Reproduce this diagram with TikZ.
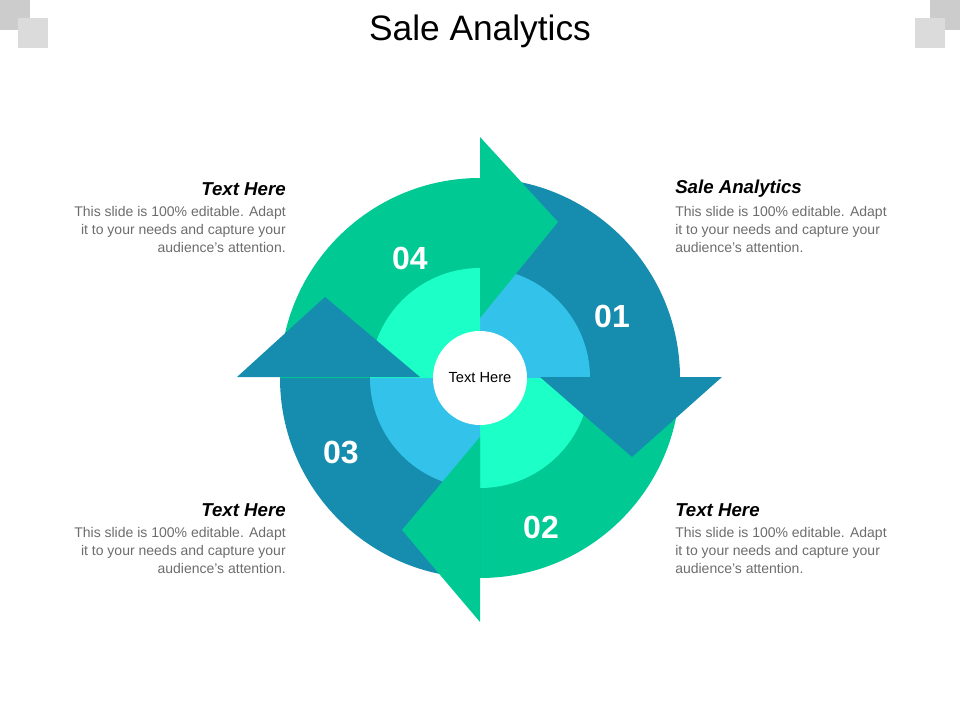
\documentclass[tikz,border=0pt]{standalone}
\usepackage{fontspec}
\setmainfont{Liberation Sans}
\begin{document}
\begin{tikzpicture}[x=0.75pt,y=-0.75pt,
  head/.style={font=\fontsize{14}{16}\selectfont\bfseries\itshape},
  body/.style={font=\fontsize{10.5}{13.5}\selectfont,text=gray!85!black,inner sep=0pt},
  num/.style={font=\fontsize{24}{26}\selectfont\bfseries,text=white}]
\definecolor{dblue}{HTML}{168DAE}
\definecolor{dgreen}{HTML}{00C994}
\definecolor{lblue}{HTML}{33C2EA}
\definecolor{lgreen}{HTML}{1CFFC6}
\useasboundingbox (0,0) rectangle (960,720);
\fill[gray!40] (0,0) rectangle (30,30);
\fill[gray!28] (18,18) rectangle (48,48);
\fill[gray!40] (930,0) rectangle (960,30);
\fill[gray!28] (915,18) rectangle (945,48);
\node[font=\fontsize{26.5}{30}\selectfont] (title) at (480,31) {Sale Analytics};
\coordinate (c) at (480,378);
% sectors
\fill[dblue] (c) -- ++(-90:200) arc[start angle=-90,end angle=0,radius=200] -- cycle;
\fill[dgreen] (c) -- ++(0:200) arc[start angle=0,end angle=90,radius=200] -- cycle;
\fill[dblue] (c) -- ++(90:200) arc[start angle=90,end angle=180,radius=200] -- cycle;
\fill[dgreen] (c) -- ++(180:200) arc[start angle=180,end angle=270,radius=200] -- cycle;
\fill[lblue] (c) -- ++(-90:110) arc[start angle=-90,end angle=0,radius=110] -- cycle;
\fill[lgreen] (c) -- ++(0:110) arc[start angle=0,end angle=90,radius=110] -- cycle;
\fill[lblue] (c) -- ++(90:110) arc[start angle=90,end angle=180,radius=110] -- cycle;
\fill[lgreen] (c) -- ++(180:110) arc[start angle=180,end angle=270,radius=110] -- cycle;
% arrowheads
\fill[dgreen] (480,137) -- (558,222) -- (480,318) -- cycle;
\fill[dblue] (540,377) -- (722,377) -- (632,457) -- cycle;
\fill[dgreen] (480,437) -- (480,622) -- (402,530) -- cycle;
\fill[dblue] (237,377) -- (420,377) -- (325,297) -- cycle;
\node[circle,fill=white,minimum size=70.5pt,inner sep=0pt,font=\fontsize{11}{12}\selectfont] (center) at (c) {Text Here};
\node[num] (n4) at (410,258) {04};
\node[num] (n1) at (612,316) {01};
\node[num] (n3) at (341,453) {03};
\node[num] (n2) at (541,527) {02};
% text blocks
\node[head,anchor=east,inner sep=0pt] (h1) at (286,189) {Text Here};
\node[body,anchor=north east,align=right] (b1) at (286,206) {This slide is 100\% editable. Adapt\\it to your needs and capture your\\audience's attention.};
\node[head,anchor=west,inner sep=0pt] (h2) at (675,189) {Sale Analytics};
\node[body,anchor=north west,align=left] (b2) at (675,206) {This slide is 100\% editable. Adapt\\it to your needs and capture your\\audience's attention.};
\node[head,anchor=east,inner sep=0pt] (h3) at (286,510) {Text Here};
\node[body,anchor=north east,align=right] (b3) at (286,527) {This slide is 100\% editable. Adapt\\it to your needs and capture your\\audience's attention.};
\node[head,anchor=west,inner sep=0pt] (h4) at (675,510) {Text Here};
\node[body,anchor=north west,align=left] (b4) at (675,527) {This slide is 100\% editable. Adapt\\it to your needs and capture your\\audience's attention.};
\end{tikzpicture}
\end{document}
